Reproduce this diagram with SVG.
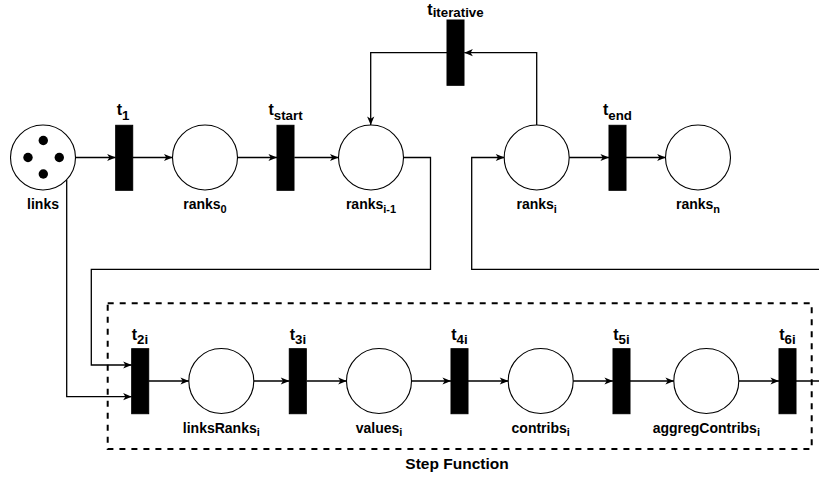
<svg xmlns="http://www.w3.org/2000/svg" width="819" height="480" viewBox="0 0 819 480">
<style>
.pl{fill:#fff;stroke:#000;stroke-width:1.1}
.tr{fill:#000;stroke:#000;stroke-width:1}
.tok{fill:#000}
.cn{fill:none;stroke:#000;stroke-width:1.3;marker-end:url(#ah)}
.nl{font-family:"Liberation Sans",Arial,Helvetica,sans-serif;font-weight:bold;font-size:14px;text-anchor:middle;fill:#000}
.tl{font-family:"Liberation Sans",Arial,Helvetica,sans-serif;font-weight:bold;font-size:16px;text-anchor:middle;fill:#000}
.ns{font-size:11px}
.ts{font-size:13.3px}
.grp{fill:none;stroke:#000;stroke-width:2;stroke-dasharray:6 6}
</style>
<defs>
<marker id="ah" markerUnits="userSpaceOnUse" viewBox="0 0 10 10" refX="10" refY="5" markerWidth="9" markerHeight="9" orient="auto">
<path d="M0.5,1 L10,5 L0.5,9 L3,5 z" fill="#000"/>
</marker>
</defs>
<g id="step-function">
<rect class="grp" x="107.7" y="303.3" width="704" height="145.7"/>
<text class="nl" x="457" y="469" style="font-size:15.5px">Step Function</text>
</g>
<g id="connectors">
<path class="cn" d="M75.5,157.5 H115.7"/>
<path class="cn" d="M132.7,157.5 H172.5"/>
<path class="cn" d="M237.5,157.5 H277"/>
<path class="cn" d="M294.3,157.5 H338.5"/>
<path class="cn" d="M403.5,157.5 H430.5 V269.3 H91.3 V365 H131.7"/>
<path class="cn" d="M66.7,180 V396.7 H131.7"/>
<path class="cn" d="M148.7,381 H189"/>
<path class="cn" d="M253.7,381 H289.3"/>
<path class="cn" d="M306.7,381 H346.7"/>
<path class="cn" d="M411.3,381 H451"/>
<path class="cn" d="M468,381 H508.3"/>
<path class="cn" d="M573,381 H613"/>
<path class="cn" d="M630,381 H674"/>
<path class="cn" d="M738.7,381 H779"/>
<path class="cn" d="M796,381 H840 V269.3 H471.7 V157.5 H504.3"/>
<path class="cn" d="M536.7,125 V52.7 H464.3"/>
<path class="cn" d="M447,52.7 H370.7 V125"/>
<path class="cn" d="M569,157.5 H609"/>
<path class="cn" d="M626,157.5 H665.7"/>
</g>
<g id="links">
<circle class="pl" cx="43" cy="157.5" r="32.5"/>
<circle class="tok" cx="43.3" cy="140.5" r="4.7"/>
<circle class="tok" cx="28" cy="157.5" r="4.7"/>
<circle class="tok" cx="59.3" cy="157.5" r="4.7"/>
<circle class="tok" cx="43.3" cy="174" r="4.7"/>
<text class="nl" x="43" y="209">links</text>
</g>
<g id="t1">
<rect class="tr" x="115.7" y="125.3" width="17" height="65"/>
<text class="tl" x="123" y="115">t<tspan class="ts" dy="5">1</tspan></text>
</g>
<g id="ranks0">
<circle class="pl" cx="205" cy="157.5" r="32.5"/>
<text class="nl" x="205" y="209">ranks<tspan class="ns" dy="4">0</tspan></text>
</g>
<g id="tstart">
<rect class="tr" x="277" y="125.3" width="17" height="65"/>
<text class="tl" x="285.5" y="115">t<tspan class="ts" dy="5">start</tspan></text>
</g>
<g id="ranks_i-1">
<circle class="pl" cx="371" cy="157.5" r="32.5"/>
<text class="nl" x="371" y="209">ranks<tspan class="ns" dy="4">i-1</tspan></text>
</g>
<g id="titerative">
<rect class="tr" x="447" y="20" width="17" height="65.3"/>
<text class="tl" x="455.5" y="14.5">t<tspan class="ts" dy="2.5">iterative</tspan></text>
</g>
<g id="ranks_i">
<circle class="pl" cx="536.7" cy="157.5" r="32.5"/>
<text class="nl" x="536.7" y="209">ranks<tspan class="ns" dy="4">i</tspan></text>
</g>
<g id="tend">
<rect class="tr" x="609" y="125.3" width="17" height="65"/>
<text class="tl" x="617.5" y="115">t<tspan class="ts" dy="5">end</tspan></text>
</g>
<g id="ranks_n">
<circle class="pl" cx="698" cy="157.5" r="32.5"/>
<text class="nl" x="698" y="209">ranks<tspan class="ns" dy="4">n</tspan></text>
</g>
<g id="t2i">
<rect class="tr" x="131.7" y="348.7" width="17" height="65"/>
<text class="tl" x="140" y="339.5">t<tspan class="ts" dy="4.5">2i</tspan></text>
</g>
<g id="linksRanks_i">
<circle class="pl" cx="221.3" cy="381" r="32.5"/>
<text class="nl" x="221.3" y="433">linksRanks<tspan class="ns" dy="3">i</tspan></text>
</g>
<g id="t3i">
<rect class="tr" x="289.3" y="348.7" width="17" height="65"/>
<text class="tl" x="298" y="339.5">t<tspan class="ts" dy="4.5">3i</tspan></text>
</g>
<g id="values_i">
<circle class="pl" cx="379" cy="381" r="32.5"/>
<text class="nl" x="379" y="433">values<tspan class="ns" dy="3">i</tspan></text>
</g>
<g id="t4i">
<rect class="tr" x="451" y="348.7" width="17" height="65"/>
<text class="tl" x="459.5" y="339.5">t<tspan class="ts" dy="4.5">4i</tspan></text>
</g>
<g id="contribs_i">
<circle class="pl" cx="540.7" cy="381" r="32.5"/>
<text class="nl" x="540.7" y="433">contribs<tspan class="ns" dy="3">i</tspan></text>
</g>
<g id="t5i">
<rect class="tr" x="613" y="348.7" width="17" height="65"/>
<text class="tl" x="621.5" y="339.5">t<tspan class="ts" dy="4.5">5i</tspan></text>
</g>
<g id="aggregContribs_i">
<circle class="pl" cx="706.3" cy="381" r="32.5"/>
<text class="nl" x="706.3" y="433">aggregContribs<tspan class="ns" dy="3">i</tspan></text>
</g>
<g id="t6i">
<rect class="tr" x="779" y="348.7" width="17" height="65"/>
<text class="tl" x="787.5" y="339.5">t<tspan class="ts" dy="4.5">6i</tspan></text>
</g>
</svg>
